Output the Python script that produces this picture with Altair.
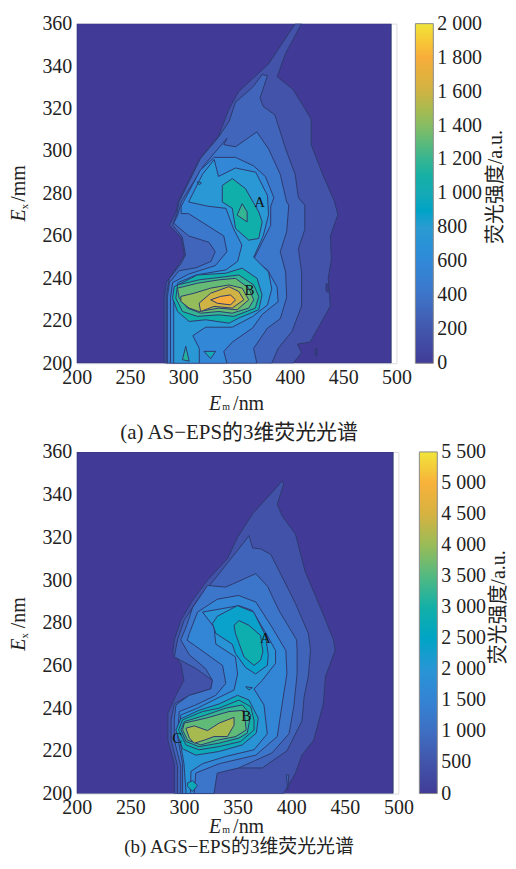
import altair as alt
import pandas as pd

SERIF = "Liberation Serif, Noto Sans CJK SC"
PARULA = ["#413b97", "#4257ac", "#3d74c8", "#3189d8", "#2b9bd2", "#16aab6",
          "#35b592", "#86bd63", "#cfb344", "#f8ad3b", "#f0e53a"]
FRAME = [(200, 200), (495, 200), (495, 360), (200, 360)]

# ---- panel (a): AS-EPS contour bands (Em, Ex), with the band's intensity
A_L1 = [(405,360),(380,341),(352,328),(343,320),(333,307),(315,296),(295,276),(293,271),(287,265),(298,259),(301,251),(295,246),(284,238),(282,231),(282,200),(403,200),(411,205),(407,209),(419,210),(428,218),(438,227),(436,240),(439,249),(438,260),(445,270),(442,276),(430,290),(420,303),(420,315),(414,320),(403,329),(388,335),(396,346),(411,360)]
A_L2 = [(379,335.5),(374,336),(365,330),(349,323),(343,314),(333,306.5),(316,296.4),(296,276),(294,270.5),(290,265),(299,259.6),(302,251),(298,247),(287,240),(284,232),(284,200),(383,200),(389,207),(402,215),(411,227),(411,243),(408,254),(414,263),(414,274.5),(408,278),(405,289),(396,301),(386,317),(375,321),(372,325)]
A_L3 = [(341,306),(319,293),(298,276),(295,270),(291,266),(305,260),(324,257),(330,252.6),(326,248),(312,245),(296,243.6),(287,238),(285,231),(285,200),(369,200),(366,207),(379,216.6),(391,221),(397,231),(396,243),(391,252.6),(397,262),(399,274.5),(397,276),(391,289),(380,301),(369,309),(349,302),(338,303)]
A_L4 = [(329,297),(349,297),(366,293),(377,288),(385,278),(382,274),(382,265),(366,249),(379,244),(388,236),(389,229),(374,223),(365,216.6),(346,210),(338,205.6),(341,200),(288,200),(288,231),(290,238),(305,242),(330,246),(341,252.6),(338,260),(305,270.5),(298,270.5),(298,274),(316,291)]
A_L5 = [(329,296),(333,288),(349,292),(368,290),(379,279),(380,270),(375,260),(366,250),(380,243),(383,235),(379,227.5),(365,222),(346,217),(321,217),(309,213),(315,207),(315,200),(291,200),(291,231),(295,238),(312,241.6),(340,244),(351,248),(355,255.7),(347,263.5),(340,273),(323,274),(305,276),(309,280),(318,289)]
A_A1 = [(336.6,283.8),(346,287),(358.3,282.3),(370.8,271.3),(374,266.6),(370.8,258.8),(361.4,258),(349,263.5),(346,273),(336.6,276)]
A_A2 = [(355.2,275.2),(359.9,271.3),(359.9,266.6),(350.5,269.8)]
A_C1 = [(291.5,236.1),(313.2,241.6),(339.7,242.4),(355.2,244.8),(369.2,240),(373.9,232.2),(370.8,225.2),(352.1,221.3),(342.8,218.9),(321,220.5),(305.5,219.7),(294.6,224.4),(289.9,230.7)]
A_C2 = [(294.6,236.9),(314.8,239.3),(339.7,240.8),(352.1,241.6),(366.1,236.9),(370.8,231.5),(367.6,226),(347.4,222.1),(333.4,222.8),(313.2,222.1),(299.2,224.4),(293,230.7)]
A_C3 = [(294.6,235.4),(313.2,237.7),(333.4,239.3),(349,240),(361.4,235.4),(366.1,229.9),(361.4,226),(345.9,223.6),(333.4,224.4),(316.3,223.6),(303.9,226),(296.1,230.7)]
A_C4 = [(297.7,231.5),(310.1,233),(325.7,235.4),(342.8,236.9),(355.2,235.4),(361.4,229.9),(350.5,225.2),(333.4,226),(314.8,224.4),(305.5,226),(297.7,229.1)]
A_C5 = [(314.8,228.3),(325.7,233),(342.8,236.1),(352.1,233.8),(356.8,229.9),(345.9,226),(328.8,226.8),(316.3,224.4)]
A_C6 = [(325.7,229.9),(335,231.5),(344.3,232.2),(349,229.9),(344.3,227.5),(331.9,228.3)]
A_S1 = [(299.2,201.7),(302.3,208),(305.5,201)]
A_S2 = [(319.4,205.6),(330.3,205.6),(325.7,202.2)]
A_S3 = [(313,285.5),(317,285),(315,284)]
A_S4 = [(434,237.5),(436,237),(436,233.5),(434,234)]
A_S5 = [(424,207),(425.5,207),(425.5,203.5),(424,203.5)]
A_BANDS = [(FRAME,0),(A_L1,170),(A_L2,300),(A_L3,430),(A_L4,580),(A_L5,760),(A_A1,1080),(A_A2,1200),
           (A_S1,1150),(A_S2,1000),(A_S3,1000),(A_S4,0),(A_S5,0),
           (A_C1,1080),(A_C2,1200),(A_C3,1320),(A_C4,1440),(A_C5,1600),(A_C6,1790)]
A_TICKS = [0,200,400,600,800,1000,1200,1400,1600,1800,2000]
A_MARKS = [("A",371.6,276),("B",362,234.7)]

# ---- panel (b): AGS-EPS contour bands
B_L1 = [(391.6,346.4),(382,341),(364,331),(350,320),(340.5,310),(322,300),(308,290.5),(297,281),(291,272),(289.5,265.6),(297,261),(300,253),(292.5,246),(285,237.6),(285,225),(291,214),(291,200),(393,200),(404,209.6),(410,218),(421,225),(430,242),(432,255),(441,267),(439.5,272),(429,285),(413,304),(404,321.5),(391.6,330),(387,335.5),(393,345)]
B_L2 = [(360.6,320.8),(356,317.7),(328,300),(313,291),(300,281),(294,272),(291,264),(311,258.6),(326.6,253),(325,249),(305,246),(291,242),(288,234.5),(288,225),(294,213),(294,200),(328,200),(329,210),(351,212),(373,212),(396,220),(410,234),(412,245),(416,255),(418,267),(416,275),(404,289),(390,303),(381,312),(371.5,314.6),(364,315)]
B_L3 = [(322,297.5),(308,287),(302,278),(297,272),(305,265),(320,258.6),(326.6,253),(325,249),(305,246),(292.5,241.5),(291,234.5),(291,225),(297,213),(297,200),(328,200),(331,209.6),(351,212),(382,219),(398,228),(402.4,240.7),(405.5,256),(405.5,267),(405,272),(388.5,285.8),(378,297),(367,303),(339,296.7)]
B_L4 = [(312.7,285),(331,291),(351,292.8),(367,289.7),(382,278),(395,267),(396,256),(391.6,242),(387,226.7),(367,218),(333,214),(311,209.6),(309.6,200),(298.7,200),(298.7,214),(294,226.7),(295.6,238.4),(311,241.5),(329.7,246),(339,251.6),(336,260),(309.6,269.5),(303,271.8),(305,275)]
B_L5 = [(317.3,285),(351.3,288),(363.7,285.8),(377.7,274),(385.4,267),(385.4,261),(373,253),(365.3,249),(374.6,241.5),(377.7,228),(365.3,220.5),(339,217.4),(317.3,214),(306.5,210.4),(306,200),(302,200),(300,214),(295.6,226.7),(297,236.8),(312.7,240),(331,244.6),(346.7,248.5),(350,256),(348,264),(329.7,270),(328,278)]
B_A1 = [(326.6,279.6),(331,283),(349.8,288),(365,285),(376,274),(378.6,264.8),(377.7,260),(366.8,256),(357.5,259),(348,265.6),(345,270),(329.7,275)]
B_A2 = [(346.7,278.8),(351.3,281),(360.6,278.8),(371.5,274),(373.6,266.4),(371.5,262.5),(365.3,260),(356,264),(353,268),(348,275)]
B_W = [(357.5,250),(363.7,249.6),(360.6,248.5)]
B_C1 = [(297,235),(314,239),(333,242),(350,246),(360.6,243.8),(369.3,235.3),(367.4,228.3),(354.4,222.8),(332.8,219.7),(311,218),(298.7,221),(292.5,229.8)]
B_C2 = [(298.7,234.5),(317.3,238.4),(332.8,240),(351.3,243.8),(362.2,240.7),(365.3,234.5),(365.3,229.8),(352.9,224.4),(332.8,222),(314,220.5),(301.8,222.8),(295,229.8)]
B_C3 = [(300.3,233.7),(320.4,236.8),(339,240),(354.4,241.5),(362.2,236.8),(359,228.3),(351.3,226),(332.8,223.6),(314,222),(301.8,224.4),(297.2,229.8)]
B_C4 = [(300.3,233),(320.4,235.3),(342,238.4),(356,239),(358,229.8),(348.3,226.7),(331.2,225),(315.8,222.8),(303.4,225),(298.7,229.8)]
B_C5 = [(301.8,230.6),(309.6,231.7),(322,229.5),(332.8,233),(346.7,235.7),(346.7,232),(340.5,226.7),(328,226.7),(318.9,225),(309.6,223.6),(305,226)]
B_S1 = [(303.4,205),(308,206),(312.7,203.8),(308,201),(303.4,203.4)]
B_S2 = [(395.3,208.8),(397.8,208.8),(396.8,201.8)]
B_BANDS = [(FRAME,0),(B_L1,450),(B_L2,800),(B_L3,1150),(B_L4,1550),(B_L5,1950),(B_A1,2400),(B_A2,2900),(B_W,2400),
           (B_S1,2700),(B_S2,800),(B_C1,2700),(B_C2,3000),(B_C3,3300),(B_C4,3600),(B_C5,4100)]
B_TICKS = [0,500,1000,1500,2000,2500,3000,3500,4000,4500,5000,5500]
B_MARKS = [("A",376,272.8),("B",358,236.4),("C",293.8,226)]

XTICKS = [200,250,300,350,400,450,500]
YTICKS = [200,220,240,260,280,300,320,340,360]


def rows(bands):
    out = []
    for k, (poly, level) in enumerate(bands):
        for i, (em, ex) in enumerate(list(poly) + [poly[0]]):
            out.append({"band": k, "i": i, "em": em, "ex": ex, "level": level})
    return pd.DataFrame(out)


def txt(s, px, py, size=20, angle=0, align="center", style="normal"):
    return alt.Chart(pd.DataFrame({"t": [s]})).mark_text(
        font=SERIF, fontSize=size, angle=angle, align=align, baseline="middle",
        fontStyle=style, color="#222").encode(text="t:N", x=alt.value(px), y=alt.value(py))


def panel(bands, ticks, marks, w, h, legx, cbx, cby, ylabel, cap, capy, top_text, capsize, tity):
    top = ticks[-1]
    x = alt.X("em:Q", scale=alt.Scale(domain=[200, 500], nice=False),
              axis=alt.Axis(values=XTICKS, title=None, grid=False, tickSize=0, labelPadding=4, domain=False,
                            labelFont=SERIF, labelFontSize=20, labelColor="#222", format="d",
                            labelOverlap=False, labelFlush=False))
    y = alt.Y("ex:Q", scale=alt.Scale(domain=[200, 360], nice=False),
              axis=alt.Axis(values=YTICKS, title=None, grid=False, tickSize=0, labelPadding=5, domain=False,
                            labelFont=SERIF, labelFontSize=20, labelColor="#222", format="d",
                            labelOverlap=False, labelFlush=False))
    color = alt.Color("level:Q", scale=alt.Scale(domain=[0, top], range=PARULA),
                      legend=alt.Legend(orient="none", legendX=legx, legendY=0, title=None, values=ticks,
                                        gradientLength=h, gradientThickness=18, gradientStrokeColor="#888",
                                        gradientStrokeWidth=1, labelFont=SERIF, labelFontSize=20, labelColor="#222",
                                        labelOffset=4, labelOverlap=False, labelBaseline="middle",
                                        labelExpr=f"datum.value == 0 || datum.value == {top} ? '' : replace(format(datum.value, ','), ',', ' ')"))
    fills = alt.Chart(rows(bands)).mark_line(filled=True, stroke="#2e3a70", strokeWidth=1, clip=True).encode(
        x=x, y=y, color=color, detail="band:N", order="i:Q")
    letters = alt.Chart(pd.DataFrame(marks, columns=["t", "em", "ex"])).mark_text(
        font=SERIF, fontSize=15, color="#111").encode(x="em:Q", y="ex:Q", text="t:N")
    mx = 145
    extras = [
        txt("E", mx, h + tity, style="italic", align="right"),
        txt("m", mx + 1, h + tity + 3, size=10, align="left"),
        txt("/nm", mx + 12, h + tity, align="left"),
        txt(cap, 163, capy, size=capsize),
        txt("E", -58, h / 2 + 22, angle=270, style="italic"),
        txt("x", -52, h / 2 + 13, size=11, angle=270),
        txt(ylabel, -58, h / 2 - 10, angle=270),
        txt("荧光强度/a.u.", cbx, cby, size=20, angle=270),
        txt(top_text, legx + 22, 0, align="left"),
        txt("0", legx + 22, h, align="left"),
    ]
    return alt.layer(fills, letters, *extras).properties(width=w, height=h)


a = panel(A_BANDS, A_TICKS, A_MARKS, 321, 341, 340, 421, 164, "/mm", "(a) AS−EPS的3维荧光光谱", 411, "2 000", 21, 41)
b = panel(B_BANDS, B_TICKS, B_MARKS, 323, 343, 344, 424, 156, "/nm", "(b) AGS−EPS的3维荧光光谱", 397, "5 500", 19, 34)

chart = alt.vconcat(a, b, spacing=89, bounds="flush").resolve_scale(color="independent").properties(
    padding={"left": 0, "top": 3, "right": -2, "bottom": 0}
).configure_view(stroke="#777", strokeWidth=1).configure(background="white")

chart.save("out.html", embed_options={"renderer": "svg", "actions": False})
